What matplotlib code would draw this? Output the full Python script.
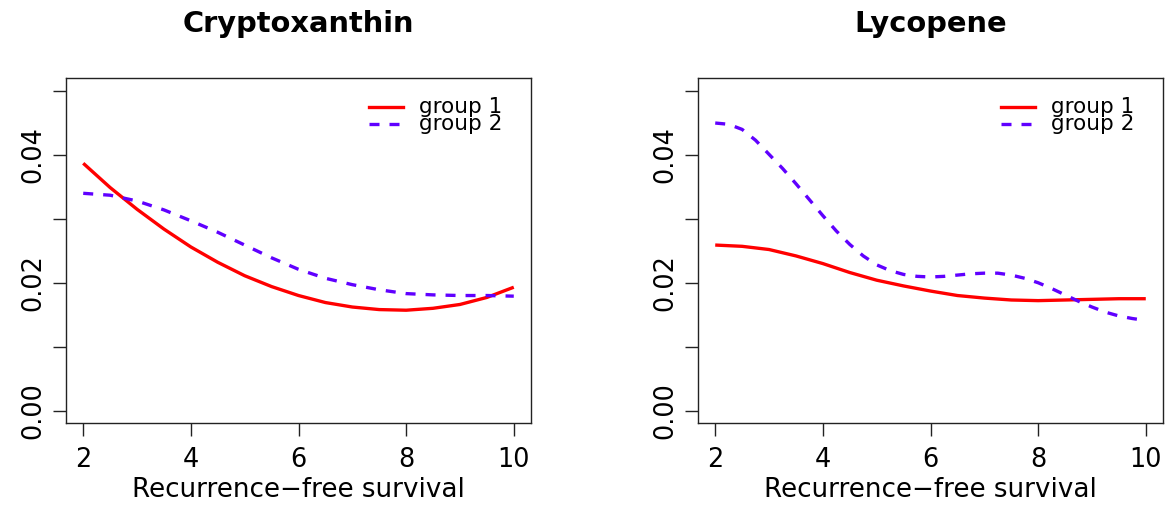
import matplotlib

matplotlib.use("Agg")
import matplotlib.pyplot as plt

# the reference text is wider than Helvetica at the same height, DejaVu fits it
plt.rcParams["font.family"] = ["DejaVu Sans"]

# survival time grids (the steep Lycopene group 2 curve is read more finely)
times = [2, 2.5, 3, 3.5, 4, 4.5, 5, 5.5, 6, 6.5, 7, 7.5, 8, 8.5, 9, 9.5, 10]
times_fine = [2, 2.25, 2.5, 2.75, 3, 3.25, 3.5, 3.75, 4, 4.25, 4.5, 4.75, 5, 5.25,
              5.5, 5.75, 6, 6.25, 6.5, 6.75, 7, 7.25, 7.5, 7.75, 8, 8.25, 8.5,
              8.75, 9, 9.25, 9.5, 9.75, 10]

crypto_g1 = [0.0387, 0.0349, 0.0315, 0.0284, 0.0256, 0.0232, 0.0211, 0.0194, 0.0180,
             0.0169, 0.0162, 0.0158, 0.0157, 0.0160, 0.0166, 0.0177, 0.0193]
crypto_g2 = [0.0340, 0.0337, 0.0328, 0.0314, 0.0297, 0.0279, 0.0259, 0.0239, 0.0221,
             0.0207, 0.0197, 0.0189, 0.0183, 0.0181, 0.0180, 0.0180, 0.0179]
lyco_g1 = [0.0259, 0.0257, 0.0252, 0.0242, 0.0230, 0.0216, 0.0204, 0.0195, 0.0187,
           0.0180, 0.0176, 0.0173, 0.0172, 0.0173, 0.0174, 0.0175, 0.0175]
lyco_g2 = [0.0450, 0.0448, 0.0440, 0.0423, 0.0401, 0.0379, 0.0355, 0.0330, 0.0305,
           0.0281, 0.0260, 0.0242, 0.0228, 0.0219, 0.0213, 0.0210, 0.0209, 0.0210,
           0.0212, 0.0214, 0.0215, 0.0215, 0.0212, 0.0207, 0.0200, 0.0191, 0.0181,
           0.0171, 0.0162, 0.0154, 0.0148, 0.0144, 0.0141]

titles = ["Cryptoxanthin", "Lycopene"]
group_labels = ["group 1", "group 2"]
xticks = [2, 4, 6, 8, 10]
yticks = [0.00, 0.01, 0.02, 0.03, 0.04, 0.05]
ytick_labels = ["0.00", "", "0.02", "", "0.04", ""]
xlabel = "Recurrence\u2212free survival"

RED = "#FF0000"
BLUE = "#6000FF"
LW = 2.4

W, H = 1169, 508
fig = plt.figure(figsize=(W / 100, H / 100), dpi=100)

panels = [
    (66, titles[0], (times, crypto_g1), (times, crypto_g2)),
    (698, titles[1], (times, lyco_g1), (times_fine, lyco_g2)),
]

for left_px, title, g1, g2 in panels:
    ax = fig.add_axes([left_px / W, (H - 423.3) / H, 465 / W, 345 / H])
    ax.plot(*g1, color=RED, lw=LW, solid_capstyle="butt")
    ax.plot(*g2, color=BLUE, lw=LW, dashes=(3, 3), dash_capstyle="butt")
    ax.set_xlim(1.68, 10.32)
    ax.set_ylim(-0.002, 0.052)

    ax.set_xticks(xticks)
    ax.set_xticklabels([str(t) for t in xticks])
    ax.set_yticks(yticks)
    ax.set_yticklabels(ytick_labels, rotation=90, va="center")
    ax.tick_params(axis="both", length=9.4, width=1.0, labelsize=18.4, color="#222222")
    ax.tick_params(axis="x", pad=7.5)
    ax.tick_params(axis="y", pad=5)
    for s in ax.spines.values():
        s.set_linewidth(1.0)
        s.set_color("#222222")

    ax.set_xlabel(xlabel, fontsize=18.8, labelpad=3.0)
    ax.set_title(title, fontsize=20.8, fontweight="bold", pad=33)

    # legend drawn by hand so that the two rows overlap like the original
    for (lab, color, dash), yy in zip(
            [(group_labels[0], RED, None), (group_labels[1], BLUE, (3, 3))],
            [0.917, 0.868]):
        kw = dict(color=color, lw=LW, transform=ax.transAxes)
        if dash:
            kw["dashes"] = dash
        ax.plot([0.652, 0.725], [yy, yy], **kw)
        ax.text(0.759, yy, lab, transform=ax.transAxes, fontsize=15.5,
                va="center", ha="left")

fig.savefig("out.png", dpi=100)
